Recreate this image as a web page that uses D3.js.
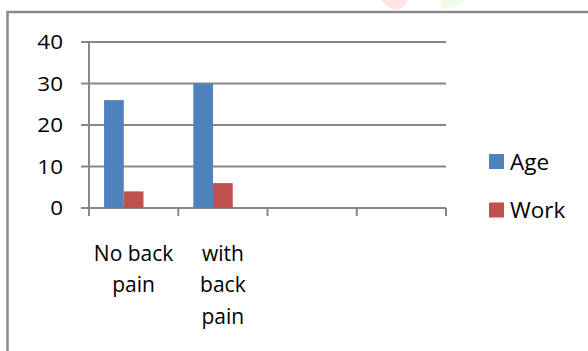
<!DOCTYPE html>
<html>
<head>
<meta charset="utf-8">
<script src="https://cdn.jsdelivr.net/npm/d3@7"></script>
<style>
  html, body { margin: 0; padding: 0; background: #fff; }
  svg { display: block; }
  text { font-family: "Open Sans", "Noto Sans", sans-serif; fill: #000; }
</style>
</head>
<body>
<svg id="chart" width="588" height="351"></svg>
<script>
// Categories along the x axis (two empty slots, as in the source workbook)
const categories = ["No back pain", "with back pain", "", ""];
// Series names and values
const seriesNames = ["Age", "Work"];
const ageValues = [26, 30, null, null];
const workValues = [4, 6, null, null];
const seriesColors = ["#4f81bd", "#c0504d"];
// Value axis ticks
const yTicks = [0, 10, 20, 30, 40];

const svg = d3.select("#chart");
const W = 588, H = 351;
const plot = { left: 89, right: 446, top: 42, bottom: 208 };
const gridColor = "#878787";

// faint watermark fragments at the top edge
svg.append("path")
  .attr("d", "M381,0 L408,0 L405,5 L400,9 L392,9 L386,5 Z")
  .attr("fill", "#ffe4e4");
svg.append("path")
  .attr("d", "M441,0 L465,0 L462,3 L453,7 L444,9 L441,8 Z")
  .attr("fill", "#f0fbe9");

// chart area border
svg.append("rect")
  .attr("x", 7.5).attr("y", 12)
  .attr("width", W + 10).attr("height", H + 10)
  .attr("fill", "none")
  .attr("stroke", "#8a8a8a")
  .attr("stroke-width", 2.5);

const x0 = d3.scaleBand()
  .domain(d3.range(categories.length))
  .range([plot.left, plot.right])
  .padding(0);

// clusters hold three slots; the third is an unused series slot
const x1 = d3.scaleBand()
  .domain([0, 1, 2])
  .range([0, x0.bandwidth()])
  .paddingInner(0)
  .paddingOuter(0.765);

const y = d3.scaleLinear()
  .domain([0, 40])
  .range([plot.bottom, plot.top]);

// horizontal gridlines with left tick stubs
svg.append("g")
  .selectAll("line")
  .data(yTicks)
  .join("line")
  .attr("x1", plot.left - 8)
  .attr("x2", plot.right)
  .attr("y1", d => y(d))
  .attr("y2", d => y(d))
  .attr("stroke", gridColor)
  .attr("stroke-width", 2);

// value axis line
svg.append("line")
  .attr("x1", plot.left).attr("x2", plot.left)
  .attr("y1", y(40)).attr("y2", plot.bottom + 8)
  .attr("stroke", gridColor).attr("stroke-width", 2);

// category tick marks
const catEdges = d3.range(categories.length + 1).map(i =>
  i < categories.length ? x0(i) : x0(categories.length - 1) + x0.bandwidth());
svg.append("g")
  .selectAll("line")
  .data(catEdges)
  .join("line")
  .attr("x1", d => d).attr("x2", d => d)
  .attr("y1", plot.bottom).attr("y2", plot.bottom + 8)
  .attr("stroke", gridColor).attr("stroke-width", 2);

// value axis labels (slightly widened glyphs)
svg.append("g")
  .selectAll("text")
  .data(yTicks)
  .join("text")
  .attr("transform", d => `translate(63,${y(d)}) scale(1.15,1)`)
  .attr("dy", "0.36em")
  .attr("text-anchor", "end")
  .attr("font-size", 19.5)
  .text(d => d);

// bars
const seriesValues = [ageValues, workValues];
seriesValues.forEach((vals, s) => {
  svg.append("g")
    .selectAll("rect")
    .data(vals.map((v, i) => ({ i, v })).filter(d => d.v != null))
    .join("rect")
    .attr("x", d => x0(d.i) + x1(s))
    .attr("width", x1.bandwidth())
    .attr("y", d => y(d.v))
    .attr("height", d => y(0) - y(d.v))
    .attr("fill", seriesColors[s]);
});

// category labels, wrapped to the band width
const lineH = 31.7;
const catG = svg.append("g");
categories.forEach((label, i) => {
  if (!label) return;
  const cx = x0(i) + x0.bandwidth() / 2;
  const t = catG.append("text")
    .attr("text-anchor", "middle")
    .attr("font-size", 21);
  const words = label.split(" ");
  const lines = [];
  let cur = [];
  const probe = t.append("tspan");
  words.forEach(w => {
    const trial = cur.concat([w]).join(" ");
    probe.text(trial);
    if (cur.length && probe.node().getComputedTextLength() > x0.bandwidth() - 2) {
      lines.push(cur.join(" "));
      cur = [w];
    } else {
      cur.push(w);
    }
  });
  if (cur.length) lines.push(cur.join(" "));
  probe.remove();
  lines.forEach((ln, k) => {
    t.append("tspan")
      .attr("x", cx)
      .attr("y", 260.7 + k * lineH)
      .text(ln);
  });
});

// legend
const legend = svg.append("g");
seriesNames.forEach((name, s) => {
  const cy = 161.5 + s * 48.5;
  legend.append("rect")
    .attr("x", 489).attr("y", cy - 7.5)
    .attr("width", 15).attr("height", 15)
    .attr("fill", seriesColors[s]);
  legend.append("text")
    .attr("x", 510).attr("y", cy)
    .attr("dy", "0.36em")
    .attr("font-size", 22.5)
    .text(name);
});
</script>
</body>
</html>
